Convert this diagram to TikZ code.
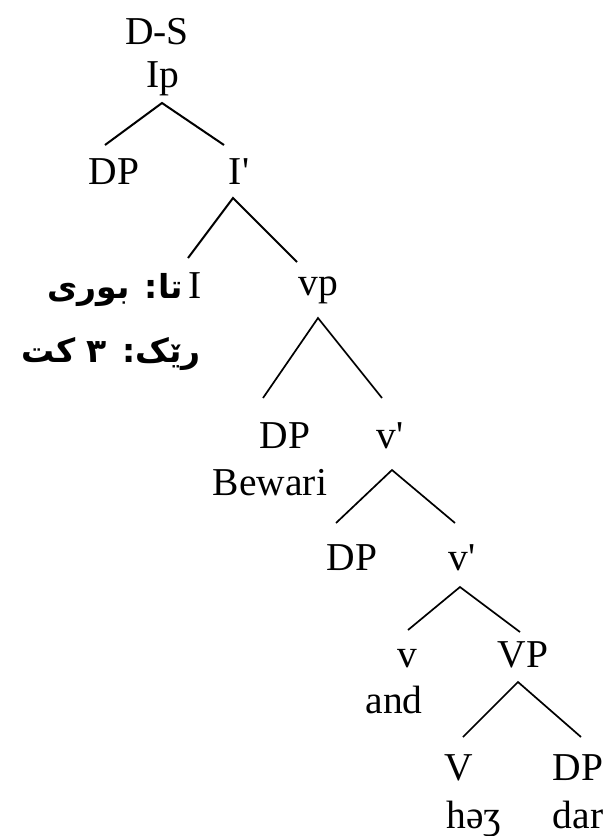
\documentclass[tikz,border=0pt]{standalone}
\usepackage{fontspec}
\setmainfont{Liberation Serif}
\newfontfamily\arabicfont[Script=Arabic]{DejaVu Sans}
\TeXXeTstate=1
\begin{document}
\begin{tikzpicture}[x=1pt,y=-1pt,
  lbl/.style={anchor=base,inner sep=0pt,font=\fontsize{39.5}{46}\selectfont},
  ar/.style={anchor=base east,inner sep=0pt,font=\arabicfont\bfseries\fontsize{33}{38}\selectfont},
  br/.style={line width=2pt},
  brt/.style={line width=1.7pt}]
\useasboundingbox (0,0) rectangle (606,836);
\node[lbl] (ds) at (157,44) {D-S};
\node[lbl] (ip) at (163,87) {Ip};
\coordinate (ipA) at (162,103);
\coordinate (ipL) at (105,145);
\coordinate (ipR) at (224,145);
\draw[br] (ipL) -- (ipA) -- (ipR);
\node[lbl] (dp1) at (114,184) {DP};
\node[lbl] (ibar) at (239,184) {I\textquotesingle};
\coordinate (ibA) at (233,198);
\coordinate (ibL) at (188,258);
\coordinate (ibR) at (297,262);
\draw[br] (ibL) -- (ibA) -- (ibR);
\node[lbl] (i) at (195,298) {I};
\node[ar] (ar1) at (183,298) {\beginR تا: بوری\endR};
\node[ar] (ar2) at (201,362) {\beginR رێک: ٣ کت\endR};
\node[lbl] (vp) at (318,295) {vp};
\coordinate (vpA) at (318,318);
\coordinate (vpL) at (263,398);
\coordinate (vpR) at (382,398);
\draw[brt] (vpL) -- (vpA) -- (vpR);
\node[lbl] (dp2) at (285,448) {DP};
\node[lbl] (bew) at (270,495) {Bewari};
\node[lbl] (vb1) at (390,448) {v\textquotesingle};
\coordinate (v1A) at (392,470);
\coordinate (v1L) at (336,523);
\coordinate (v1R) at (455,523);
\draw[brt] (v1L) -- (v1A) -- (v1R);
\node[lbl] (dp3) at (352,570) {DP};
\node[lbl] (vb2) at (462,570) {v\textquotesingle};
\coordinate (v2A) at (460,587);
\coordinate (v2L) at (408,630);
\coordinate (v2R) at (520,632);
\draw[brt] (v2L) -- (v2A) -- (v2R);
\node[lbl] (v) at (407,667) {v};
\node[lbl] (and) at (394,713) {and};
\node[lbl] (VP) at (523,667) {VP};
\coordinate (VPA) at (518,682);
\coordinate (VPL) at (463,737);
\coordinate (VPR) at (581,737);
\draw[brt] (VPL) -- (VPA) -- (VPR);
\node[lbl] (V) at (459,780) {V};
\node[lbl] (dp4) at (578,780) {DP};
\node[lbl] (hez) at (474,828) {həʒ};
\node[lbl] (dar) at (578,828) {dar};
\end{tikzpicture}
\end{document}
